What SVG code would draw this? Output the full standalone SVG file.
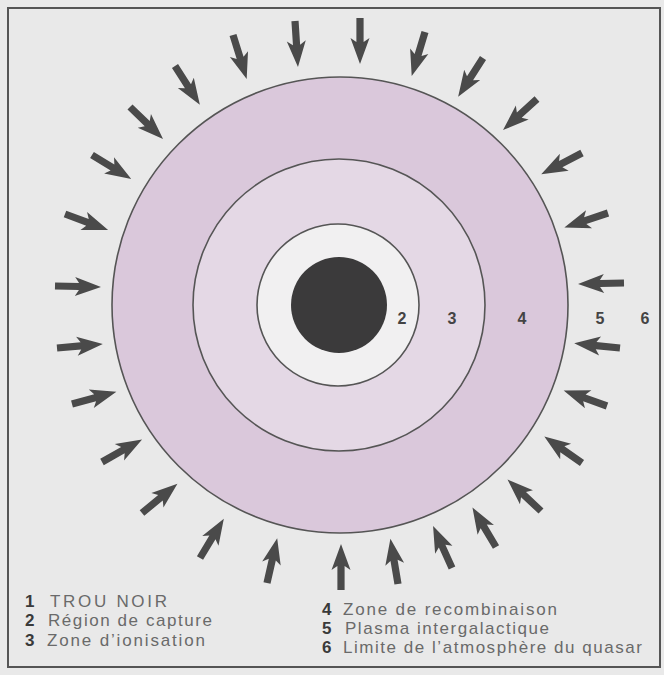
<svg xmlns="http://www.w3.org/2000/svg" xmlns:xlink="http://www.w3.org/1999/xlink" width="664" height="675" viewBox="0 0 664 675">
<style>
.ring{stroke:#555;stroke-width:1.6}
.num{font-family:"Liberation Sans",Arial,sans-serif;font-weight:bold;font-size:16px;fill:#444;text-anchor:middle}
.leg{font-family:"Liberation Sans",Arial,sans-serif;font-size:17px;fill:#6a6a6a}
.legn{font-family:"Liberation Sans",Arial,sans-serif;font-size:17px;font-weight:bold;fill:#3a3a3a}
.arr{fill:#4a4a4a}
</style>
<defs>
<path id="arrow" class="arr" d="M0,-3.6 L24,-3.6 L20,-9.5 L46,0 L20,9.5 L24,3.6 L0,3.6 Z"/>
</defs>
<rect x="0" y="0" width="664" height="675" fill="#e9e9e9"/>
<rect x="8" y="8" width="652" height="659" fill="none" stroke="#555" stroke-width="2"/>
<g id="zone4">
<circle cx="340" cy="305" r="228" fill="#dac8db" class="ring"/>
</g>
<g id="zone3">
<circle cx="339" cy="305" r="146" fill="#e4d8e5" class="ring"/>
</g>
<g id="zone2">
<circle cx="338" cy="305" r="81" fill="#f1f0f1" class="ring"/>
</g>
<g id="trou-noir">
<circle cx="339" cy="305" r="48" fill="#3b3a3b"/>
</g>
<g id="zone-labels">
<text class="num" x="402" y="324">2</text>
<text class="num" x="452" y="324">3</text>
<text class="num" x="522" y="324">4</text>
<text class="num" x="600" y="324">5</text>
<text class="num" x="645" y="324">6</text>
</g>
<g id="arrows">
<use xlink:href="#arrow" transform="translate(233,35) rotate(72.7)"/>
<use xlink:href="#arrow" transform="translate(295,21) rotate(86.3)"/>
<use xlink:href="#arrow" transform="translate(360,18) rotate(90)"/>
<use xlink:href="#arrow" transform="translate(425,32) rotate(106.8)"/>
<use xlink:href="#arrow" transform="translate(483,58) rotate(122.7)"/>
<use xlink:href="#arrow" transform="translate(537,99) rotate(137.6)"/>
<use xlink:href="#arrow" transform="translate(582,153) rotate(152.4)"/>
<use xlink:href="#arrow" transform="translate(608,213) rotate(161.6)"/>
<use xlink:href="#arrow" transform="translate(624,283) rotate(178.8)"/>
<use xlink:href="#arrow" transform="translate(620,348) rotate(185.8)"/>
<use xlink:href="#arrow" transform="translate(607,406) rotate(199.6)"/>
<use xlink:href="#arrow" transform="translate(582,463) rotate(215)"/>
<use xlink:href="#arrow" transform="translate(541,511) rotate(223.3)"/>
<use xlink:href="#arrow" transform="translate(496,547) rotate(239.2)"/>
<use xlink:href="#arrow" transform="translate(452,568) rotate(245.7)"/>
<use xlink:href="#arrow" transform="translate(398,584) rotate(260.5)"/>
<use xlink:href="#arrow" transform="translate(341,590) rotate(270)"/>
<use xlink:href="#arrow" transform="translate(267,583) rotate(282.8)"/>
<use xlink:href="#arrow" transform="translate(200,558) rotate(301.2)"/>
<use xlink:href="#arrow" transform="translate(142,513) rotate(320.4)"/>
<use xlink:href="#arrow" transform="translate(102,462) rotate(330.6)"/>
<use xlink:href="#arrow" transform="translate(72,404) rotate(344.7)"/>
<use xlink:href="#arrow" transform="translate(57,348) rotate(355)"/>
<use xlink:href="#arrow" transform="translate(55,286) rotate(1.2)"/>
<use xlink:href="#arrow" transform="translate(65,214) rotate(20.4)"/>
<use xlink:href="#arrow" transform="translate(92,155) rotate(31.4)"/>
<use xlink:href="#arrow" transform="translate(130,107) rotate(44.1)"/>
<use xlink:href="#arrow" transform="translate(175,66) rotate(57.3)"/>
</g>
<g id="legend">
<text class="legn" x="25" y="607">1</text>
<text class="leg" x="50" y="607" textLength="117" lengthAdjust="spacing">TROU NOIR</text>
<text class="legn" x="25" y="626">2</text>
<text class="leg" x="48" y="626" textLength="164" lengthAdjust="spacing">Région de capture</text>
<text class="legn" x="25" y="646">3</text>
<text class="leg" x="47" y="646" textLength="158" lengthAdjust="spacing">Zone d’ionisation</text>
<text class="legn" x="322" y="615">4</text>
<text class="leg" x="343" y="615" textLength="214" lengthAdjust="spacing">Zone de recombinaison</text>
<text class="legn" x="322" y="634">5</text>
<text class="leg" x="345" y="634" textLength="204" lengthAdjust="spacing">Plasma intergalactique</text>
<text class="legn" x="322" y="653">6</text>
<text class="leg" x="343" y="653" textLength="299" lengthAdjust="spacing">Limite de l’atmosphère du quasar</text>
</g>
</svg>
